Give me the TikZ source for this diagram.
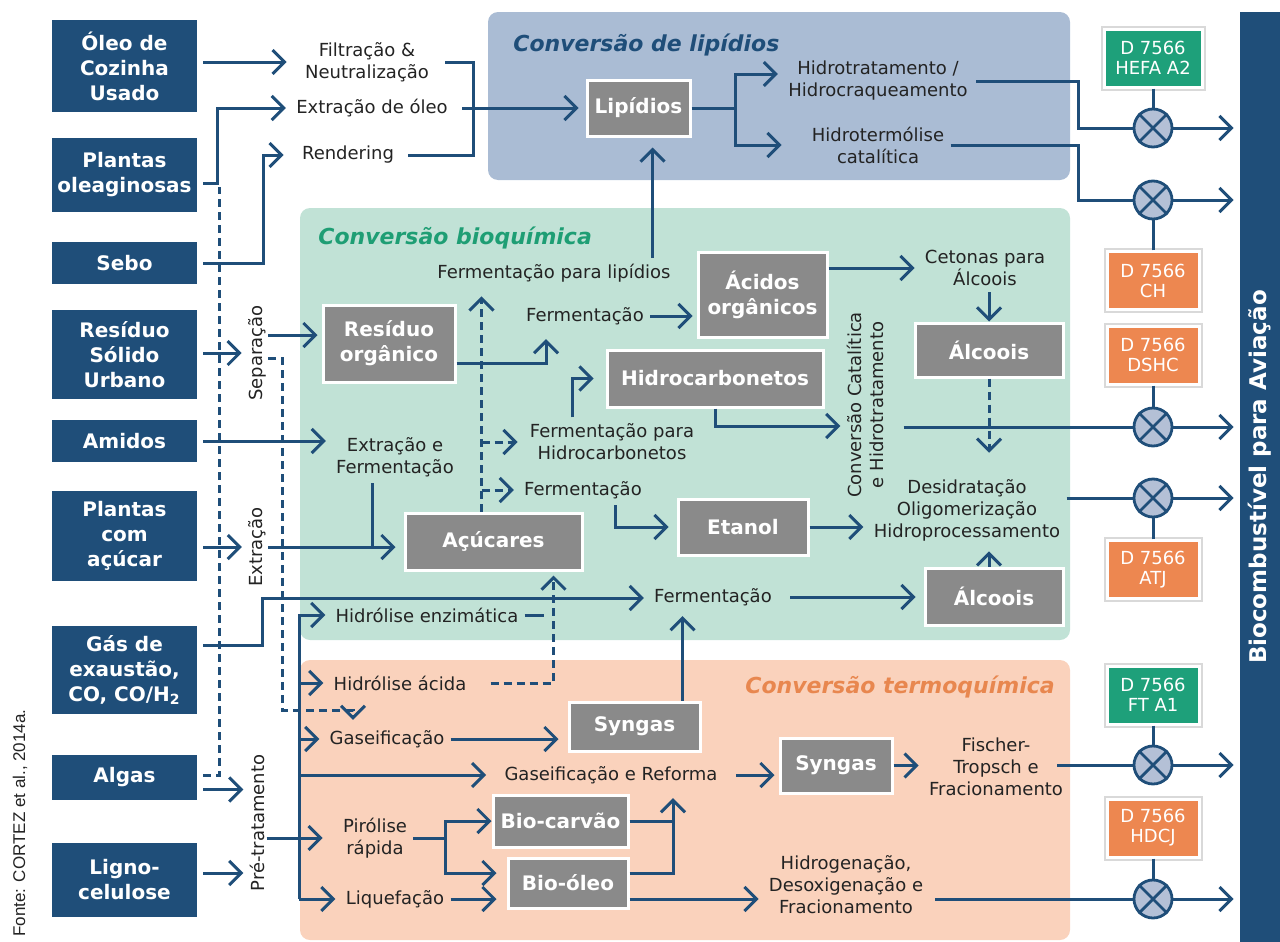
\documentclass[tikz,border=0pt]{standalone}
\usepackage{fontspec}
\setmainfont{DejaVu Sans}
\newfontfamily\srcfont{Liberation Sans}
\usetikzlibrary{positioning,arrows.meta}

\definecolor{navy}{RGB}{31,78,121}
\definecolor{boxgray}{RGB}{138,138,138}
\definecolor{lipbg}{RGB}{170,188,212}
\definecolor{biobg}{RGB}{193,226,214}
\definecolor{termbg}{RGB}{250,210,188}
\definecolor{stdgreen}{RGB}{30,160,122}
\definecolor{stdorange}{RGB}{237,135,80}
\definecolor{mixfill}{RGB}{180,192,214}
\definecolor{titgreen}{RGB}{30,158,116}
\definecolor{titorange}{RGB}{232,135,79}
\definecolor{txt}{RGB}{35,35,35}

\tikzset{
  feed/.style={fill=navy, text=white, font=\fontsize{10}{12.5}\selectfont\bfseries,
    align=center, minimum width=72.5pt, inner sep=0pt},
  inter/.style={fill=boxgray, draw=white, line width=1.5pt, text=white,
    font=\fontsize{10}{12.5}\selectfont\bfseries, align=center, inner sep=0pt},
  norma/.style={draw=white, line width=1.5pt, preaction={draw=black!15, line width=3.5pt},
    text=white, font=\fontsize{9}{10}\selectfont, align=center,
    minimum width=46pt, minimum height=29pt, inner sep=0pt},
  proc/.style={text=txt, font=\fontsize{9}{11}\selectfont, align=center, inner sep=3pt},
  vlab/.style={proc, rotate=90, inner sep=1pt},
  mix/.style={circle, draw=navy, fill=mixfill, line width=1.4pt, minimum size=19pt, inner sep=0pt},
  panel/.style={rounded corners=5pt},
  ptitle/.style={font=\fontsize{11}{13}\selectfont\bfseries\itshape, anchor=west, inner sep=0pt},
  conn/.style={draw=navy, line width=1.5pt},
  conna/.style={conn, -{Straight Barb[length=6pt,width=12pt]}, shorten >=2pt},
  dsh/.style={dash pattern=on 4pt off 2.5pt},
}

\begin{document}
\begin{tikzpicture}[x=0.5pt, y=-0.5pt]
  \useasboundingbox (0,0) rectangle (1280,942);

  % fundos das conversoes
  \fill[lipbg, panel] (488,12) rectangle (1070,180);
  \fill[biobg, panel] (300,208) rectangle (1070,640);
  \fill[termbg, panel] (300,660) rectangle (1070,940);
  \node[ptitle, text=navy] (tlip) at (513,45) {Conversão de lipídios};
  \node[ptitle, text=titgreen] (tbio) at (318,238) {Conversão bioquímica};
  \node[ptitle, text=titorange] (tterm) at (745,687) {Conversão termoquímica};

  \node[fill=navy, rotate=90, minimum width=465pt, minimum height=20pt, inner sep=0pt,
    text=white, font=\fontsize{11.5}{13}\selectfont\bfseries] (bar) at (1260,477)
    {Biocombustível para Aviação};
  \node[rotate=90, text=txt, font=\srcfont\fontsize{8.5}{10}\selectfont] (src) at (20,823)
    {Fonte: CORTEZ et al., 2014a.};

  % materias-primas
  \node[feed, minimum height=46pt] (oleo) at (124.5,66) {Óleo de\\Cozinha\\Usado};
  \node[feed, minimum height=37pt] (oleag) at (124.5,175) {Plantas\\oleaginosas};
  \node[feed, minimum height=21pt] (sebo) at (124.5,263) {Sebo};
  \node[feed, minimum height=44.5pt] (rsu) at (124.5,354.5) {Resíduo\\Sólido\\Urbano};
  \node[feed, minimum height=21pt] (amidos) at (124.5,441) {Amidos};
  \node[feed, minimum height=45pt] (pcomac) at (124.5,536) {Plantas\\com\\açúcar};
  \node[feed, minimum height=44pt] (gasx) at (124.5,670) {Gás de\\exaustão,\\CO, CO/H\textsubscript{2}};
  \node[feed, minimum height=22.5pt] (algas) at (124.5,777.5) {Algas};
  \node[feed, minimum height=37pt] (ligno) at (124.5,880) {Ligno-\\celulose};

  % produtos intermediarios
  \node[inter, minimum width=51.5pt, minimum height=28pt] (lip) at (638.5,108) {Lipídios};
  \node[inter, minimum width=64.5pt, minimum height=42.5pt] (acid) at (762.5,294.5) {Ácidos\\orgânicos};
  \node[inter, minimum width=66pt, minimum height=38.5pt] (resorg) at (389,343.5) {Resíduo\\orgânico};
  \node[inter, minimum width=108pt, minimum height=28.5pt] (hidroc) at (715,378.5) {Hidrocarbonetos};
  \node[inter, minimum width=74pt, minimum height=27pt] (alc1) at (989,350) {Álcoois};
  \node[inter, minimum width=88.5pt, minimum height=28.5pt] (acuc) at (493.5,541.5) {Açúcares};
  \node[inter, minimum width=65pt, minimum height=28pt] (etanol) at (743,527) {Etanol};
  \node[inter, minimum width=69pt, minimum height=28.5pt] (alc2) at (994,596.5) {Álcoois};
  \node[inter, minimum width=65.5pt, minimum height=24.5pt] (syn1) at (634.5,726.5) {Syngas};
  \node[inter, minimum width=56pt, minimum height=27.5pt] (syn2) at (836,765.5) {Syngas};
  \node[inter, minimum width=67.5pt, minimum height=26pt] (biocarv) at (560.5,821) {Bio-carvão};
  \node[inter, minimum width=60pt, minimum height=25pt] (bioleo) at (568,883) {Bio-óleo};

  % processos
  \node[proc] (filt) at (367,62) {Filtração \&\\Neutralização};
  \node[proc] (extol) at (372,108) {Extração de óleo};
  \node[proc] (rend) at (348,155) {Rendering};
  \node[proc] (hidrot) at (878,81) {Hidrotratamento /\\Hidrocraqueamento};
  \node[proc] (hidrotm) at (878,145) {Hidrotermólise\\catalítica};
  \node[proc] (fpl) at (554,273) {Fermentação para lipídios};
  \node[proc] (ferm1) at (585,316) {Fermentação};
  \node[proc] (ceton) at (985,268) {Cetonas para\\Álcoois};
  \node[proc] (fph) at (612,442) {Fermentação para\\Hidrocarbonetos};
  \node[vlab] (cat) at (865,405) {Conversão Catalítica\\e Hidrotratamento};
  \node[proc] (ferm2) at (583,490) {Fermentação};
  \node[proc] (desid) at (967,510) {Desidratação\\Oligomerização\\Hidroprocessamento};
  \node[proc] (extf) at (395,457) {Extração e\\Fermentação};
  \node[vlab] (sep) at (257,353) {Separação};
  \node[vlab] (extr) at (257,547) {Extração};
  \node[vlab] (pre) at (257,823) {Pré-tratamento};
  \node[proc] (ferm3) at (713,597) {Fermentação};
  \node[proc] (henz) at (427,615) {Hidrólise enzimática};
  \node[proc] (hac) at (400,683) {Hidrólise ácida};
  \node[proc] (gas) at (387,739) {Gaseificação};
  \node[proc] (gasref) at (611,775) {Gaseificação e Reforma};
  \node[proc] (piro) at (375,838) {Pirólise\\rápida};
  \node[proc] (liq) at (395,899) {Liquefação};
  \node[proc] (ft) at (996,767) {Fischer-\\Tropsch e\\Fracionamento};
  \node[proc] (hidrog) at (846,885) {Hidrogenação,\\Desoxigenação e\\Fracionamento};

  % misturas e normas
  \foreach \i/\y in {1/128,2/200,3/427,4/498,5/765,6/899}
    \node[mix] (m\i) at (1153,\y) {};
  \foreach \i in {1,...,6}
    \draw[navy, line width=1.4pt] (m\i.north east) -- (m\i.south west)
      (m\i.north west) -- (m\i.south east);
  \node[norma, fill=stdgreen, minimum width=49pt, above=9.5pt of m1] (hefa) {D 7566\\HEFA A2};
  \node[norma, fill=stdorange, below=15pt of m2] (ch) {D 7566\\CH};
  \node[norma, fill=stdorange, above=10.5pt of m3] (dshc) {D 7566\\DSHC};
  \node[norma, fill=stdorange, below=10.5pt of m4] (atj) {D 7566\\ATJ};
  \node[norma, fill=stdgreen, above=9.5pt of m5] (fta) {D 7566\\FT A1};
  \node[norma, fill=stdorange, above=10pt of m6] (hdcj) {D 7566\\HDCJ};
  \draw[conn] (hefa) -- (m1);
  \draw[conn] (ch) -- (m2);
  \draw[conn] (dshc) -- (m3);
  \draw[conn] (atj) -- (m4);
  \draw[conn] (fta) -- (m5);
  \draw[conn] (hdcj) -- (m6);
  \foreach \i in {1,...,6}
    \draw[conna, shorten >=3pt] (m\i.east) -- (m\i.east -| bar.north);

  \coordinate (jl) at (473,108);
  \coordinate (jh) at (735,108);
  \coordinate (k1) at (1078,128);
  \coordinate (k2) at (1078,200);
  \coordinate (jd) at (282,710);
  \coordinate (jg) at (262,598);
  \coordinate (tr) at (299,899);
  \coordinate (jp) at (445,838);

  % lipidios
  \draw[conna, shorten <=3pt, shorten >=6pt] (oleo.east |- filt.west) -- (filt.west);
  \draw[conna, shorten <=3pt] ([yshift=-4pt]oleag.east) -- ++(10pt,0) |- (extol.west);
  \draw[conna, shorten <=3pt, shorten >=6pt] (sebo.east) -- ++(33pt,0) |- (rend.west);
  \draw[conn, dsh, shorten <=3pt] ([yshift=1pt]algas.east) -| ([xshift=11pt,yshift=-6pt]oleag.east);
  \draw[conn, shorten <=5pt, shorten >=4pt] (filt.east) -| (jl) |- (rend.east);
  \draw[conn, shorten <=4pt] (extol.east) -- (jl);
  \draw[conna, shorten >=3.5pt] (jl) -- (lip.west);
  \draw[conn] (lip.east) -- (jh);
  \draw[conna] (jh) |- ([yshift=3.5pt]hidrot.west);
  \draw[conna, shorten >=12pt] (jh) |- (hidrotm.west);
  \draw[conn, shorten <=1pt] (hidrot.east) -| (k1) -- (m1.west);
  \draw[conn] (hidrotm.east) -| (k2) -- (m2.west);
  \draw[conna, shorten >=5pt] ([xshift=7pt]lip.south |- fpl.north) -- ([xshift=7pt]lip.south);

  % bioquimica
  \draw[conna, shorten <=3pt] (rsu.east |- sep.north) -- (sep.north);
  \draw[conna] ([yshift=9pt]sep.south) -- ([yshift=9pt]sep.south -| resorg.west);
  \draw[conna, dsh] ([yshift=-2.5pt]sep.south) -| (jd) -| ([xshift=-17pt]gas.north);
  \draw[conna, shorten <=3pt] (amidos.east) -- (amidos.east -| extf.west);
  \draw[conna, shorten <=3pt] (pcomac.east |- extr.north) -- (extr.north);
  \draw[conna, shorten >=4pt] (extr.south) -- (extr.south -| acuc.west);
  \draw[conn] ([xshift=-11.5pt]extf.south) -- ([xshift=-11.5pt]extf.south |- extr.south);
  \draw[conna, shorten >=4pt] ([yshift=-10pt]resorg.east) -| ([xshift=-19.5pt]ferm1.south);
  \draw[conna] (ferm1.east) -- (ferm1.east -| acid.west);
  \draw[conna, dsh, shorten >=4pt] ([xshift=-6pt]acuc.north) -- ([xshift=-6pt]acuc.north |- fpl.south);
  \draw[conna, dsh, shorten >=3pt] ([xshift=-6pt]acuc.north |- fph.west) -- (fph.west);
  \draw[conna, dsh] ([xshift=-6pt]acuc.north |- ferm2.west) -- (ferm2.west);
  \draw[conna, shorten >=6pt] ([xshift=-20pt]fph.north) |- (hidroc.west);
  \draw[conna] (hidroc.south) |- ([yshift=-10.5pt]cat.north);
  \draw[conn, shorten <=9pt] (cat.south |- m3.west) -- (m3.west);
  \draw[conna] (acid.east |- ceton.west) -- (ceton.west);
  \draw[conna, shorten >=0pt] (ceton.south -| alc1.north) -- (alc1.north);
  \draw[conna, dsh, shorten >=10pt] (alc1.south) -- (alc1.south |- desid.north);
  \draw[conna, shorten >=4pt] ([xshift=16pt]ferm2.south) |- (etanol.west);
  \draw[conna] (etanol.east) -- (etanol.east -| desid.west);
  \draw[conn] (desid.east |- m4.west) -- (m4.west);
  \draw[conna] ([xshift=-2.5pt]alc2.north) -- ([xshift=-2.5pt]alc2.north |- desid.south);
  \draw[conna, shorten <=3pt] ([yshift=12.5pt]gasx.east) -| (jg) -- (jg -| ferm3.west);
  \draw[conna, shorten <=6pt, shorten >=4pt] (ferm3.east) -- (ferm3.east -| alc2.west);

  % termoquimica
  \draw[conna, shorten <=3pt] ([yshift=-6pt]algas.east) -- ([yshift=-6pt]algas.east -| pre.north);
  \draw[conna, shorten <=3pt] ([yshift=3.5pt]ligno.east) -- ([yshift=3.5pt]ligno.east -| pre.north);
  \draw[conn] (pre.south |- piro.west) -- (tr |- piro.west);
  \draw[conna] (tr) |- (henz.west);
  \draw[conna] (tr) -- (liq.west);
  \draw[conna] (tr |- hac.west) -- (hac.west);
  \draw[conna] (tr |- gas.west) -- (gas.west);
  \draw[conna, shorten >=6pt] (tr |- gasref.west) -- (gasref.west);
  \draw[conna, shorten >=7pt] (tr |- piro.west) -- (piro.west);
  \draw[conn] (henz.east) -- ++(9.5pt,0);
  \draw[conna, dsh, shorten <=9pt] (hac.east) -| ([xshift=30pt]acuc.south);
  \draw[conna, shorten >=4.5pt] (gas.east) -- (gas.east -| syn1.west);
  \draw[conna] ([xshift=24pt]syn1.north) -- ([xshift=24pt]syn1.north |- ferm3.south);
  \draw[conna, shorten <=6pt] (gasref.east) -- (gasref.east -| syn2.west);
  \draw[conna] (syn2.east) -- (syn2.east -| ft.west);
  \draw[conn, shorten <=-6pt] (ft.east |- m5.west) -- (m5.west);
  \draw[conn] (piro.east) -- (jp);
  \draw[conna, shorten >=0pt] (jp) |- (biocarv.west);
  \draw[conna, shorten >=5pt] (jp) |- ([yshift=5pt]bioleo.west);
  \draw[conna, shorten >=5pt] (liq.east) -- (liq.east -| bioleo.west);
  \draw[conn] (biocarv.east) -- ([xshift=31pt]gasref.south |- biocarv.east);
  \draw[conna, shorten >=4pt] ([yshift=5pt]bioleo.east) -| ([xshift=31pt]gasref.south);
  \draw[conna] (bioleo.east |- liq.east) -- (hidrog.west |- liq.east);
  \draw[conn, shorten <=3pt] (hidrog.east |- m6.west) -- (m6.west);
\end{tikzpicture}
\end{document}
